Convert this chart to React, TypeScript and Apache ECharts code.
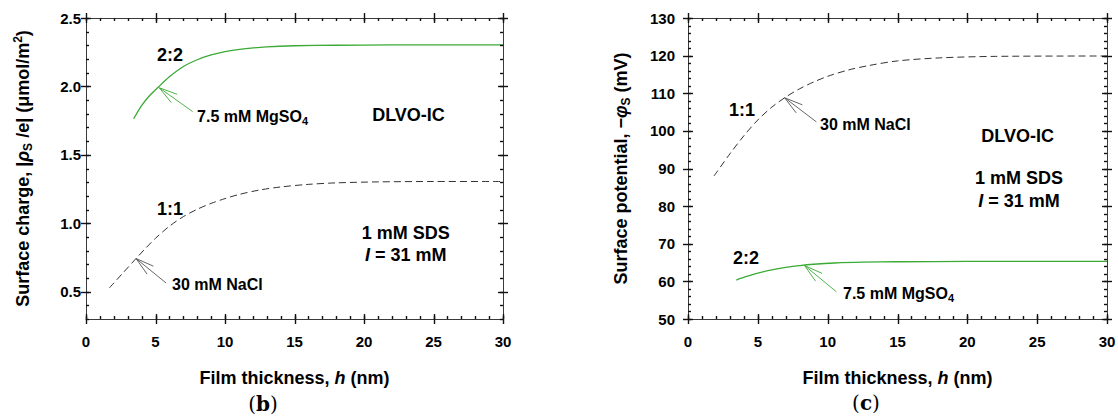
import React, { useEffect, useRef } from 'react';
import * as echarts from 'echarts';

const FONT = '"Liberation Sans", Arial, Helvetica, sans-serif';
const SERIF = '"DejaVu Serif", "Liberation Serif", serif';
const INK = '#000';
const FRAME = '#3a3a3a';
const TICK = '#111';
const GREEN = '#3aaa35';
const DASH = '#333';

// ---- axis ranges and tick labels ----
const thicknessRange: [number, number] = [0, 30];
const thicknessTicks = [0, 5, 10, 15, 20, 25, 30];
const thicknessMinorStep = 1;
const chargeRange: [number, number] = [0.3, 2.5];
const chargeTicks = [0.5, 1.0, 1.5, 2.0, 2.5];
const chargeMinorStep = 0.1;
const potentialRange: [number, number] = [50, 130];
const potentialTicks = [50, 60, 70, 80, 90, 100, 110, 120, 130];
const potentialMinorStep = 2;

// ---- series values: [h (nm), value] ----
const charge22 = [
  [3.43, 1.764], [4.0, 1.86], [4.6, 1.935], [5.2, 1.995], [6.0, 2.07], [7.0, 2.145], [8.0, 2.195],
  [9.0, 2.23], [10.0, 2.255], [11.5, 2.276], [13, 2.289], [15, 2.297], [18, 2.301], [22, 2.303], [30, 2.303],
];
const charge11 = [
  [1.68, 0.527], [2.6, 0.63], [3.6, 0.742], [4.3, 0.818], [5.0, 0.89], [6.0, 0.978], [7.0, 1.048],
  [8.0, 1.102], [9.0, 1.145], [10.0, 1.18], [11.0, 1.21], [12.5, 1.243], [14, 1.265], [16, 1.284],
  [18, 1.295], [21, 1.302], [25, 1.305], [30, 1.305],
];
const potential11 = [
  [1.86, 88.0], [3.0, 93.9], [4.0, 98.7], [5.0, 102.9], [6.0, 106.3], [7.0, 109.0], [8.0, 111.2],
  [9.0, 113.0], [10.0, 114.5], [11.5, 116.2], [13, 117.4], [15, 118.6], [18, 119.4], [22, 119.8], [30, 119.9],
];
const potential22 = [
  [3.46, 60.36], [4.2, 61.3], [5.0, 62.2], [6.0, 63.05], [7.0, 63.7], [8.0, 64.2], [9.0, 64.55],
  [10.5, 64.88], [12.5, 65.1], [15, 65.22], [20, 65.3], [30, 65.3],
];

// ---- annotations (data coordinates) ----
const chargeNotes = [
  { text: '{b|2:2}', h: 6.04, v: 2.23, align: 'center', size: 'big' },
  { text: '{b|7.5 mM MgSO}{s|4}', h: 7.99, v: 1.777, align: 'left', size: 'small' },
  { text: '{b|DLVO-IC}', h: 23.2, v: 1.79, align: 'center', size: 'big' },
  { text: '{b|1:1}', h: 6.04, v: 1.106, align: 'center', size: 'big' },
  { text: '{b|30 mM NaCl}', h: 6.19, v: 0.55, align: 'left', size: 'small' },
  { text: '{b|1 mM SDS}', h: 23.0, v: 0.93, align: 'center', size: 'big' },
  { text: '{i|I}{b| = 31 mM}', h: 23.0, v: 0.77, align: 'center', size: 'big' },
];
const potentialNotes = [
  { text: '{b|1:1}', h: 3.87, v: 105.5, align: 'center', size: 'big' },
  { text: '{b|30 mM NaCl}', h: 9.45, v: 101.6, align: 'left', size: 'small' },
  { text: '{b|DLVO-IC}', h: 23.6, v: 98.6, align: 'center', size: 'big' },
  { text: '{b|1 mM SDS}', h: 23.7, v: 87.5, align: 'center', size: 'big' },
  { text: '{i|I}{b| = 31 mM}', h: 23.7, v: 81.3, align: 'center', size: 'big' },
  { text: '{b|2:2}', h: 4.15, v: 66.2, align: 'center', size: 'big' },
  { text: '{b|7.5 mM MgSO}{s|4}', h: 11.1, v: 56.9, align: 'left', size: 'small' },
];
// arrows: [tipH, tipV, tailH, tailV]
const chargeArrowMg = [[5.27, 1.99, 7.67, 1.816]];
const chargeArrowNa = [[3.6, 0.742, 5.76, 0.563]];
const potentialArrowNa = [[6.92, 108.8, 9.19, 102.4]];
const potentialArrowMg = [[8.35, 64.2, 10.62, 57.25]];

function richFor(size: number) {
  const base = { fontFamily: FONT, fontWeight: 'bold', fontSize: size, color: INK, lineHeight: size + 4, verticalAlign: 'middle' };
  return {
    b: { ...base },
    i: { ...base, fontStyle: 'italic' },
    s: { ...base, fontSize: Math.round(size * 0.66), lineHeight: Math.round(size * 0.66), verticalAlign: 'bottom' },
    u: { ...base, fontSize: Math.round(size * 0.66), lineHeight: Math.round(size * 0.66), verticalAlign: 'top' },
  };
}
const RICH: Record<string, any> = { big: richFor(18), small: richFor(16) };

// steps through an axis range to list the minor tick positions
function stepValues(range: [number, number], step: number) {
  const out: number[] = [];
  const n = Math.round((range[1] - range[0]) / step);
  for (let k = 0; k <= n; k++) out.push(+(range[0] + k * step).toFixed(6));
  return out;
}

function axisPair(dim: 'x' | 'y', grid: number, range: [number, number], majors: number[], label: any, name: any) {
  const pos = dim === 'x' ? ['bottom', 'top'] : ['left', 'right'];
  const base = { type: 'value', gridIndex: grid, min: range[0], max: range[1], splitLine: { show: false }, splitArea: { show: false } };
  const ls = { color: FRAME, width: 1 };
  return [
    {
      ...base, position: pos[0],
      axisLine: { show: true, onZero: false, lineStyle: ls },
      axisTick: { show: false },
      axisLabel: { ...label, customValues: majors },
      ...name,
    },
    {
      ...base, position: pos[1],
      axisLine: { show: true, onZero: false, lineStyle: ls },
      axisTick: { show: false },
      axisLabel: { show: false },
    },
  ];
}

const tickLabel = (margin: number, fmt: (v: number) => string) => ({
  show: true, margin, fontFamily: FONT, fontWeight: 'bold', fontSize: 15, color: INK, formatter: fmt,
});

function noteSeries(xi: number, yi: number, notes: any[]) {
  return {
    type: 'custom', xAxisIndex: xi, yAxisIndex: yi, silent: true, z: 5,
    data: notes.map((n) => [n.h, n.v]),
    renderItem: (p: any, api: any) => {
      const n = notes[p.dataIndex];
      const c = api.coord([api.value(0), api.value(1)]);
      const size = n.size === 'big' ? 18 : 16;
      return {
        type: 'text', x: c[0], y: c[1],
        style: {
          text: n.text, rich: RICH[n.size], align: n.align, verticalAlign: 'middle',
          fontFamily: FONT, fontWeight: 'bold', fontSize: size, fill: INK,
        },
      };
    },
  };
}

function arrowSeries(xi: number, yi: number, data: number[][], color: string) {
  return {
    type: 'custom', xAxisIndex: xi, yAxisIndex: yi, silent: true, z: 4,
    data,
    renderItem: (p: any, api: any) => {
      const tip = api.coord([api.value(0), api.value(1)]);
      const tail = api.coord([api.value(2), api.value(3)]);
      const a = Math.atan2(tail[1] - tip[1], tail[0] - tip[0]);
      const L = 19;
      const st = { stroke: color, lineWidth: 0.9 };
      const barb = (d: number) => ({
        type: 'line',
        shape: { x1: tip[0], y1: tip[1], x2: tip[0] + L * Math.cos(a + d), y2: tip[1] + L * Math.sin(a + d) },
        style: st,
      });
      return {
        type: 'group',
        children: [
          { type: 'line', shape: { x1: tip[0], y1: tip[1], x2: tail[0], y2: tail[1] }, style: st },
          barb(0.27), barb(-0.27),
        ],
      };
    },
  };
}

export default function App() {
  const ref = useRef<HTMLDivElement>(null);
  useEffect(() => {
    document.body.style.margin = '0';
    const chart = echarts.init(ref.current!, null, { renderer: 'svg' });
    const titleRich = richFor(18);
    const xName = {
      name: '{b|Film thickness, }{i|h}{b| (nm)}', nameLocation: 'middle', nameGap: 48,
      nameTextStyle: { fontFamily: FONT, fontWeight: 'bold', fontSize: 18, color: INK, rich: titleRich },
    };
    const xAxis = [
      ...axisPair('x', 0, thicknessRange, thicknessTicks, tickLabel(15, (v) => String(v)), xName),
      ...axisPair('x', 1, thicknessRange, thicknessTicks, tickLabel(15, (v) => String(v)), xName),
    ];
    const yAxis = [
      ...axisPair('y', 0, chargeRange, chargeTicks, tickLabel(5, (v) => v.toFixed(1)), {
        name: '{b|Surface charge, |}{i|ρ}{s|S}{b| /e| (μmol/m}{u|2}{b|)}',
        nameLocation: 'middle', nameGap: 52, nameRotate: 90,
        nameTextStyle: { fontFamily: FONT, fontWeight: 'bold', fontSize: 18, color: INK, rich: titleRich },
      }),
      ...axisPair('y', 1, potentialRange, potentialTicks, tickLabel(13, (v) => String(v)), {
        name: '{b|Surface potential, −}{i|φ}{s|S}{b| (mV)}',
        nameLocation: 'middle', nameGap: 56, nameRotate: 90,
        nameTextStyle: { fontFamily: FONT, fontWeight: 'bold', fontSize: 18, color: INK, rich: titleRich },
      }),
    ];
    const line = (xi: number, yi: number, data: number[][], color: string, dashed: boolean) => ({
      type: 'line', xAxisIndex: xi, yAxisIndex: yi, data, showSymbol: false, symbol: 'none',
      smooth: 0.3, silent: true, z: 3,
      lineStyle: { color, width: dashed ? 1 : 1.3, type: dashed ? [7, 4] : 'solid' },
    });
    const labelRich = {
      p: { fontFamily: SERIF, fontSize: 20, color: INK },
      q: { fontFamily: SERIF, fontSize: 20, fontWeight: 'bold', color: INK },
    };
    const panelLabels = [
      { type: 'text', x: 263, y: 404, z: 100, style: { text: '{p|(}{q|b}{p|)}', rich: labelRich, align: 'center', verticalAlign: 'middle', fontFamily: SERIF, fontSize: 20, fill: INK } },
      { type: 'text', x: 866, y: 403, z: 100, style: { text: '{p|(}{q|c}{p|)}', rich: labelRich, align: 'center', verticalAlign: 'middle', fontFamily: SERIF, fontSize: 20, fill: INK } },
    ];
    chart.setOption({
      animation: false,
      backgroundColor: '#fff',
      grid: [
        { left: 86, top: 18, width: 417, height: 301, containLabel: false, outerBoundsMode: 'none' },
        { left: 688, top: 18, width: 419, height: 301, containLabel: false, outerBoundsMode: 'none' },
      ],
      xAxis,
      yAxis,
      series: [
        line(0, 0, charge22, GREEN, false),
        line(0, 0, charge11, DASH, true),
        line(2, 2, potential11, DASH, true),
        line(2, 2, potential22, GREEN, false),
        arrowSeries(0, 0, chargeArrowMg, GREEN),
        arrowSeries(0, 0, chargeArrowNa, '#555'),
        arrowSeries(2, 2, potentialArrowNa, '#555'),
        arrowSeries(2, 2, potentialArrowMg, GREEN),
        noteSeries(0, 0, chargeNotes),
        noteSeries(2, 2, potentialNotes),
      ],
      graphic: panelLabels,
    });

    // tick marks on all four sides; positions come from the axes' own scales,
    // and the frame edges are taken from the top/right corners plus the plot span
    const tickEls: any[] = [];
    const st = { stroke: TICK, lineWidth: 1.4 };
    const crisp = (v: number) => Math.round(v) + 0.5;
    const vtick = (x: number, yA: number, yB: number) =>
      tickEls.push({ type: 'line', z: 100, silent: true, shape: { x1: crisp(x), y1: yA, x2: crisp(x), y2: yB }, style: st });
    const htick = (y: number, xA: number, xB: number) =>
      tickEls.push({ type: 'line', z: 100, silent: true, shape: { x1: xA, y1: crisp(y), x2: xB, y2: crisp(y) }, style: st });
    const addTicks = (xi: number, yi: number, yr: [number, number], yMajors: number[], yStep: number) => {
      const toPx = (x: number, y: number) => chart.convertToPixel({ xAxisIndex: xi, yAxisIndex: yi }, [x, y]) as number[];
      const [x0, x1] = thicknessRange;
      const midX = (x0 + x1) / 2;
      const midY = (yr[0] + yr[1]) / 2;
      const topY = toPx(midX, yr[1])[1];
      const midPy = toPx(midX, midY)[1];
      const bottomY = topY + 2 * (midPy - topY);
      const rightX = toPx(x1, midY)[0];
      const midPx = toPx(midX, midY)[0];
      const leftX = rightX - 2 * (rightX - midPx);
      const xGroups: [number[], number, number][] = [
        [thicknessTicks, 5, 5],
        [stepValues(thicknessRange, thicknessMinorStep), 3, 0],
      ];
      for (const [vals, inL, outL] of xGroups) {
        for (const v of vals) {
          const px = toPx(v, midY)[0];
          vtick(px, bottomY + outL, bottomY - inL);
          vtick(px, topY - outL, topY + inL);
        }
      }
      const yGroups: [number[], number, number][] = [
        [yMajors, 5, 5],
        [stepValues(yr, yStep), 3, 0],
      ];
      for (const [vals, inL, outL] of yGroups) {
        for (const v of vals) {
          const py = toPx(midX, v)[1];
          htick(py, leftX - outL, leftX + inL);
          htick(py, rightX + outL, rightX - inL);
        }
      }
    };
    addTicks(0, 0, chargeRange, chargeTicks, chargeMinorStep);
    addTicks(2, 2, potentialRange, potentialTicks, potentialMinorStep);
    chart.setOption({ graphic: [...panelLabels, ...tickEls] });

    return () => chart.dispose();
  }, []);
  return <div ref={ref} style={{ width: 1118, height: 419 }} />;
}
